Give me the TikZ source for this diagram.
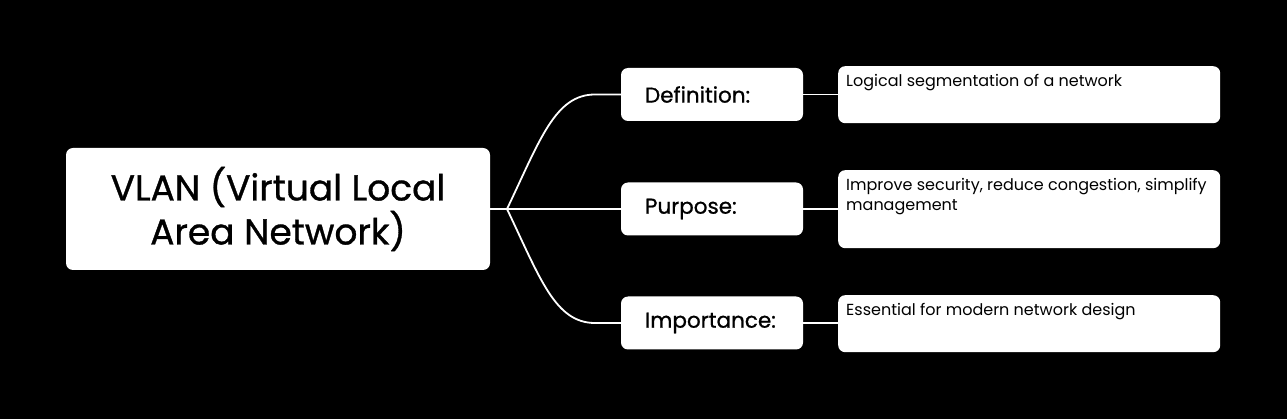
\documentclass[tikz,border=0pt]{standalone}
\usepackage{fontspec}
\setmainfont{Poppins}
\newfontfamily\medfont{Poppins}[FakeBold=0.9]
\begin{document}
\begin{tikzpicture}[x=1pt,y=-1pt,
  box/.style={fill=white, rounded corners=7pt, inner sep=0pt},
  rootbox/.style={box, minimum width=424pt, minimum height=122pt, align=center, font=\medfont\fontsize{36}{44}\selectfont},
  midbox/.style={box, minimum width=182pt, minimum height=53pt, text width=134pt, inner xsep=24pt, align=left, font=\medfont\fontsize{21.5}{24}\selectfont},
  leafbox/.style={box, anchor=north west, inner sep=0pt},
  link/.style={draw=white, line width=1.8pt}]
\useasboundingbox[fill=black] (0,0) rectangle (1287,419);

\node[rootbox] (root) at (278,209) {VLAN (Virtual Local\\Area Network)};

\node[midbox] (def) at (712,94.5) {Definition:};
\node[midbox] (pur) at (712,209) {Purpose:};
\node[midbox] (imp) at (712,323) {Importance:};

\newcommand{\leaftext}[2]{\begin{minipage}[t][#1][t]{382pt}\vspace{8pt}\leftskip=8pt\rightskip=0pt plus 1fil\hyphenpenalty=10000\exhyphenpenalty=10000\fontsize{16}{20}\selectfont #2\end{minipage}}
\node[leafbox] (l1) at (838,66) {\leaftext{57pt}{Logical segmentation of a network}};
\node[leafbox] (l2) at (838,170) {\leaftext{78pt}{Improve security, reduce congestion, simplify management}};
\node[leafbox] (l3) at (838,295) {\leaftext{57pt}{Essential for modern network design}};

\coordinate (j) at (507,209);
\coordinate (jd) at (595,94.5);
\coordinate (ji) at (595,323);
\draw[link] (root.east) -- (j) -- (pur.west);
\draw[link] (j) .. controls (540,140) and (555,94.5) .. (jd) -- (def.west);
\draw[link] (j) .. controls (540,278) and (555,323) .. (ji) -- (imp.west);
\draw[link] (def.east) -- (l1.west |- def.east);
\draw[link] (pur.east) -- (l2.west |- pur.east);
\draw[link] (imp.east) -- (l3.west |- imp.east);
\end{tikzpicture}
\end{document}
